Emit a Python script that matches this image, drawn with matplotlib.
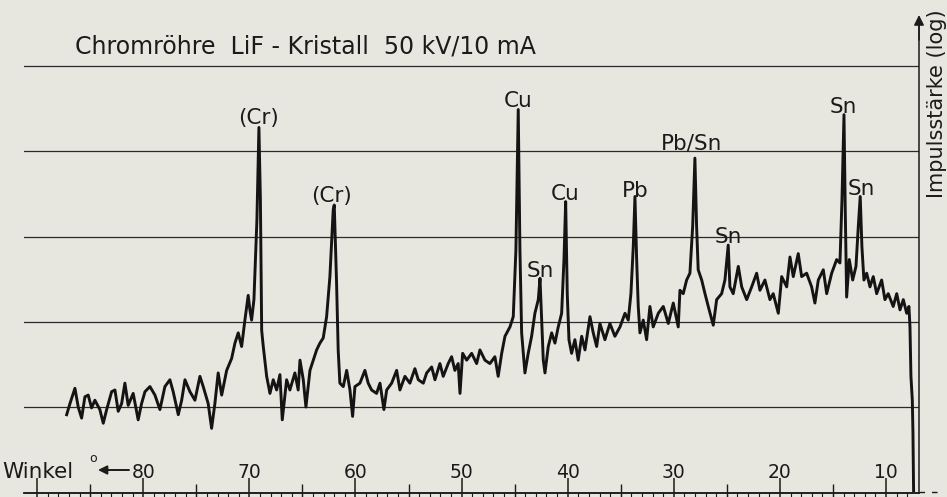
import matplotlib
matplotlib.use("Agg")
import matplotlib.pyplot as plt

# ---- data (angle in degrees, intensity in log-decade units) ----
angle = [87.22, 86.91, 86.44, 86.13, 85.81, 85.50, 85.19, 84.87, 84.56, 84.09,
         83.77, 83.45, 82.98, 82.67, 82.36, 82.04, 81.73, 81.42, 80.95, 80.48,
         80.16, 79.84, 79.37, 78.90, 78.43, 77.96, 77.49, 77.18, 76.70, 76.38,
         76.07, 75.60, 75.13, 74.66, 74.35, 73.88, 73.56, 73.25, 72.94, 72.61,
         72.14, 71.67, 71.36, 71.05, 70.73, 70.42, 70.11, 69.95, 69.79, 69.57,
         69.29, 69.10, 68.96, 68.84, 68.69, 68.37, 68.06, 67.75, 67.43, 67.12,
         66.90, 66.49, 66.18, 65.71, 65.40, 65.23, 64.92, 64.67, 64.29, 63.98,
         63.66, 63.35, 63.04, 62.72, 62.41, 62.25, 62.10, 62.00, 61.78, 61.63,
         61.47, 61.15, 60.83, 60.52, 60.27, 60.05, 59.58, 59.11, 58.80, 58.48,
         58.01, 57.69, 57.32, 57.06, 56.59, 56.12, 55.81, 55.34, 54.87, 54.40,
         54.08, 53.61, 53.29, 52.82, 52.51, 52.04, 51.73, 51.26, 50.94, 50.63,
         50.32, 50.15, 49.90, 49.52, 49.05, 48.58, 48.27, 47.80, 47.33, 46.86,
         46.55, 46.22, 45.91, 45.44, 45.13, 44.88, 44.66, 44.50, 44.34, 44.03,
         43.72, 43.40, 43.09, 42.77, 42.61, 42.45, 42.30, 42.14, 41.83, 41.51,
         41.20, 40.89, 40.57, 40.35, 40.19, 40.04, 39.88, 39.63, 39.32, 39.01,
         38.68, 38.37, 37.90, 37.59, 37.27, 36.96, 36.49, 36.02, 35.55, 35.07,
         34.60, 34.29, 34.04, 33.82, 33.66, 33.50, 33.35, 33.19, 32.88, 32.56,
         32.25, 31.94, 31.46, 30.99, 30.52, 30.05, 29.58, 29.42, 29.11, 28.79,
         28.48, 28.22, 28.01, 27.85, 27.70, 27.37, 27.06, 26.75, 26.28, 25.96,
         25.49, 25.18, 24.87, 24.71, 24.40, 23.92, 23.60, 23.13, 22.66, 22.19,
         21.88, 21.41, 20.94, 20.63, 20.15, 19.83, 19.36, 19.05, 18.74, 18.27,
         17.95, 17.48, 17.01, 16.70, 16.38, 15.91, 15.59, 15.12, 14.65, 14.34,
         14.15, 13.96, 13.84, 13.71, 13.46, 13.14, 12.83, 12.61, 12.43, 12.27,
         12.08, 11.82, 11.51, 11.20, 10.88, 10.41, 10.10, 9.79, 9.32, 8.99,
         8.68, 8.37, 8.05, 7.84, 7.74, 7.65, 7.52, 7.46, 7.40]
level = [0.91, 1.04, 1.22, 1.00, 0.87, 1.12, 1.14, 0.99, 1.08, 0.97,
         0.81, 0.97, 1.18, 1.20, 0.95, 1.04, 1.28, 1.02, 1.16, 0.85,
         1.04, 1.18, 1.24, 1.14, 0.97, 1.24, 1.32, 1.18, 0.91, 1.08,
         1.32, 1.18, 1.08, 1.36, 1.24, 1.04, 0.75, 1.04, 1.40, 1.14,
         1.43, 1.57, 1.75, 1.87, 1.71, 2.02, 2.31, 2.14, 2.02, 2.26,
         3.19, 4.28, 3.43, 1.90, 1.71, 1.36, 1.16, 1.32, 1.20, 1.38,
         0.85, 1.32, 1.20, 1.40, 1.20, 1.55, 1.32, 1.00, 1.43, 1.55,
         1.67, 1.75, 1.81, 2.06, 2.53, 2.92, 3.31, 3.37, 2.45, 1.67,
         1.28, 1.24, 1.43, 1.20, 0.89, 1.24, 1.28, 1.43, 1.28, 1.20,
         1.16, 1.28, 0.97, 1.20, 1.28, 1.43, 1.20, 1.36, 1.28, 1.45,
         1.32, 1.28, 1.40, 1.47, 1.32, 1.51, 1.36, 1.51, 1.59, 1.43,
         1.51, 1.16, 1.63, 1.55, 1.63, 1.51, 1.67, 1.55, 1.51, 1.59,
         1.36, 1.63, 1.83, 1.94, 2.06, 2.84, 4.49, 2.84, 1.87, 1.40,
         1.63, 1.83, 2.10, 2.26, 2.51, 2.02, 1.55, 1.40, 1.71, 1.87,
         1.75, 1.94, 2.10, 2.73, 3.41, 2.33, 1.79, 1.63, 1.79, 1.55,
         1.83, 1.67, 2.06, 1.87, 1.71, 1.98, 1.79, 1.98, 1.83, 1.94,
         2.10, 2.02, 2.33, 2.88, 3.47, 2.73, 2.18, 1.87, 2.02, 1.79,
         2.18, 1.94, 2.10, 2.18, 1.98, 2.22, 1.94, 2.37, 2.33, 2.49,
         2.57, 3.12, 3.92, 3.12, 2.61, 2.49, 2.33, 2.18, 1.96, 2.26,
         2.33, 2.49, 2.90, 2.41, 2.33, 2.65, 2.41, 2.26, 2.41, 2.57,
         2.37, 2.49, 2.26, 2.33, 2.10, 2.53, 2.41, 2.76, 2.53, 2.80,
         2.53, 2.57, 2.41, 2.22, 2.49, 2.61, 2.33, 2.57, 2.73, 2.69,
         3.43, 4.43, 3.31, 2.29, 2.73, 2.49, 2.65, 3.12, 3.47, 2.88,
         2.49, 2.57, 2.41, 2.53, 2.33, 2.49, 2.26, 2.33, 2.18, 2.33,
         2.14, 2.26, 2.10, 2.18, 1.94, 1.36, 1.08, 0.70, 0.02]

peak_names = ["(Cr)", "(Cr)", "Cu", "Sn", "Cu", "Pb", "Pb/Sn", "Sn", "Sn", "Sn"]
peak_angle = [69.10, 62.22, 44.69, 42.61, 40.26, 33.61, 28.33, 24.89, 14.06, 12.36]
peak_label_level = [4.32, 3.41, 4.52, 2.53, 3.43, 3.46, 4.02, 2.92, 4.45, 3.49]

tick_values = [80, 70, 60, 50, 40, 30, 20, 10]
tick_labels = ["80", "70", "60", "50", "40", "30", "20", "10"]
long_ticks = [90, 80, 70, 60, 50, 40, 30, 20, 10]
mid_ticks = [85, 75, 65, 55, 45, 35, 25, 15]
minor_ticks = list(range(8, 91))
grid_levels = [1, 2, 3, 4, 5]

title = "Chromröhre  LiF - Kristall  50 kV/10 mA"
xlabel = "Winkel"
ylabel = "Impulsstärke (log)"

# ---- style ----
BG = "#e7e6df"
INK = "#1b1b1b"
plt.rcParams["font.family"] = ["DejaVu Sans"]

W, H = 947, 497
fig = plt.figure(figsize=(W / 100, H / 100), dpi=100, facecolor=BG)
ax = fig.add_axes([24 / W, (H - 492.7) / H, (919 - 24) / W, (492.7 - 18) / H])
ax.set_facecolor(BG)
ax.set_xlim(91.24, 6.89)
ax.set_ylim(-0.005, 5.564)

for s in ("left", "top"):
    ax.spines[s].set_visible(False)
for s in ("bottom", "right"):
    ax.spines[s].set_color(INK)
    ax.spines[s].set_linewidth(1.1)

ax.set_yticks(grid_levels)
ax.yaxis.grid(True, color="#2a2a2a", lw=0.9)
ax.set_axisbelow(True)
ax.tick_params(axis="y", length=0, labelleft=False, labelright=False)

ax.set_xticks(long_ticks)
ax.set_xticks(minor_ticks, minor=True)
ax.tick_params(axis="x", which="major", direction="inout", length=21,
               width=1.1, color=INK, labelbottom=False)
ax.tick_params(axis="x", which="minor", direction="out", length=4,
               width=0.8, color=INK)

sec = ax.secondary_xaxis("bottom")
sec.set_xticks(mid_ticks)
sec.tick_params(direction="inout", length=12.5, width=1.0, color=INK,
                labelbottom=False)
sec.spines["bottom"].set_color(INK)
sec.spines["bottom"].set_linewidth(1.1)

# dashed continuation of the angle axis beyond the intensity axis
ax.plot([6.89, 4.71], [0, 0], color=INK, lw=1.0, ls=(0, (4, 5)), clip_on=False)

# spectrum
ax.plot(angle, level, color="#141414", lw=2.1, solid_joinstyle="round")

# peak labels
for name, a, l in zip(peak_names, peak_angle, peak_label_level):
    ax.text(a, l, name, ha="center", va="baseline", fontsize=15.5, color=INK)

# tick labels (drawn above the axis line, as in the original)
for v, lab in zip(tick_values, tick_labels):
    ax.text(v, 0.168, lab, ha="center", va="baseline", fontsize=13.5, color=INK)

# axis titles
fig.text(2 / W, (H - 478) / H, xlabel, ha="left", va="baseline", fontsize=15.5, color=INK)
fig.text(89 / W, (H - 462) / H, "o", ha="left", va="baseline", fontsize=9, color=INK)
ax.annotate("", xy=(98, H - 470), xytext=(129, H - 470), xycoords="figure pixels",
            arrowprops=dict(arrowstyle="-|>", color=INK, lw=1.4, mutation_scale=13,
                            shrinkA=0, shrinkB=0))
ax.annotate("", xy=(919, H - 15), xytext=(919, H - 40), xycoords="figure pixels",
            arrowprops=dict(arrowstyle="-|>", color=INK, lw=1.1, mutation_scale=15,
                            shrinkA=0, shrinkB=0))
fig.text(937 / W, (H - 104) / H, ylabel, rotation=90, ha="center", va="center",
         fontsize=15, color=INK)

fig.text(75 / W, (H - 53) / H, title, ha="left", va="baseline", fontsize=17, color=INK)

fig.savefig("out.png", dpi=100, facecolor=BG)
